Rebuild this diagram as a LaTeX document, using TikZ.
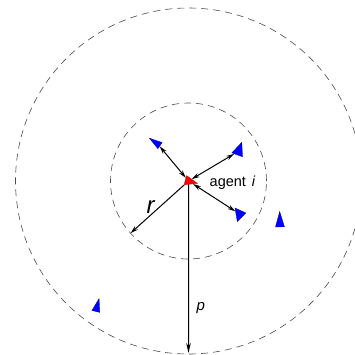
\documentclass[tikz,border=0pt]{standalone}
\usepackage{fontspec}
\setmainfont{Liberation Sans}
\usetikzlibrary{shapes.geometric,arrows.meta}

\tikzset{
  bot/.style={isosceles triangle,isosceles triangle stretches,inner sep=0pt,
    fill=blue,draw=blue!60!black,line width=0.3pt},
  leader/.style={bot,fill=red,draw=red!70!black},
  zone/.style={draw=black!70,line width=0.6pt,dash pattern=on 7pt off 5pt},
  link/.style={line width=1pt,<->},
}

\begin{document}
\begin{tikzpicture}[x=1pt,y=1pt,>={Stealth[open,length=8pt,width=4.5pt]}]
  \useasboundingbox (-188.5,-173) rectangle (166.5,181);
  \clip (-188.5,-173) rectangle (166.5,181);

  % sensing zones
  \draw[zone] (0,0) circle (78);
  \draw[zone] (0,0) circle (173);

  % agents
  \node[leader,minimum height=12.5pt,minimum width=9.5pt,rotate=-15] (agent) at (0,0) {};
  \node[bot,minimum height=13pt,minimum width=7.5pt,rotate=145] (n1) at (-30.8,37) {};
  \node[bot,minimum height=13.3pt,minimum width=11.4pt,rotate=70] (n2) at (50,29.7) {};
  \node[bot,minimum height=10pt,minimum width=13.7pt,rotate=10] (n3) at (51.2,-33.1) {};
  \node[bot,minimum height=15.3pt,minimum width=9pt,rotate=91] (n4) at (91.4,-42.5) {};
  \node[bot,minimum height=13.2pt,minimum width=8.1pt,rotate=76] (n5) at (-91.9,-127.5) {};

  \coordinate (rend) at (222:78);
  \coordinate (pend) at (0,-172);

  % links to neighbours
  \draw[link] (agent) -- (n1);
  \draw[link] (agent) -- (n2);
  \draw[link] (agent) -- (n3);
  \draw[line width=1pt,->] (agent) -- (rend);
  \draw[line width=1pt,-{Stealth[length=10pt,width=4.5pt]}] (agent) -- (pend);

  % labels
  \node[anchor=base west,inner sep=0pt,font=\fontsize{14.5}{16}\selectfont]
    (albl) at (21,-5.5) {agent\hspace{6pt}\textit{i}};
  \node[anchor=base west,inner sep=0pt,font=\fontsize{15}{16}\selectfont\itshape]
    (plbl) at (8,-129) {p};
  \node[anchor=base west,inner sep=0pt,font=\fontsize{24}{24}\selectfont\itshape]
    (rlbl) at (-42,-32) {r};
\end{tikzpicture}
\end{document}
